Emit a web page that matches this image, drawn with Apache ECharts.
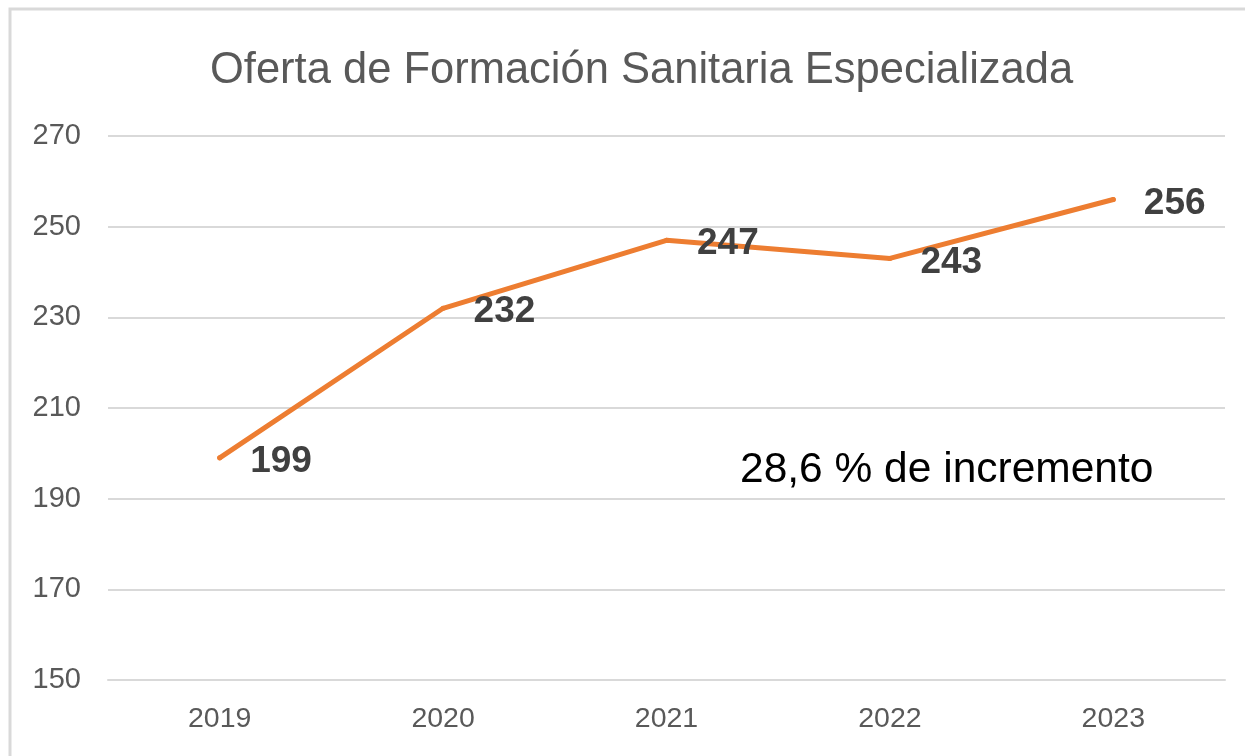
<!DOCTYPE html>
<html>
<head>
<meta charset="utf-8">
<script src="https://cdn.jsdelivr.net/npm/echarts@6/dist/echarts.min.js"></script>
<style>
html,body{margin:0;padding:0;background:#fff;}
#chart{width:1245px;height:756px;}
</style>
</head>
<body>
<div id="chart"></div>
<script>
const categories = ['2019', '2020', '2021', '2022', '2023'];
const values = [199, 232, 247, 243, 256];
const titleText = 'Oferta de Formación Sanitaria Especializada';
const noteText = '28,6 % de incremento';

const chart = echarts.init(document.getElementById('chart'));
chart.setOption({
  animation: false,
  backgroundColor: '#ffffff',
  title: {
    text: titleText,
    left: 205,
    top: 44,
    textStyle: {
      fontFamily: 'Liberation Sans, Arial, sans-serif',
      fontSize: 43.5,
      fontWeight: 'normal',
      color: '#595959'
    }
  },
  grid: { left: 108, right: 20, top: 136, bottom: 76 },
  xAxis: {
    type: 'category',
    data: categories,
    boundaryGap: true,
    axisLine: { show: true, lineStyle: { color: '#d9d9d9', width: 2 } },
    axisTick: { show: false },
    axisLabel: {
      margin: 25,
      fontFamily: 'Liberation Sans, Arial, sans-serif',
      fontSize: 28.5,
      color: '#595959'
    }
  },
  yAxis: {
    type: 'value',
    min: 150,
    max: 270,
    interval: 20,
    axisLine: { show: false },
    axisTick: { show: false },
    splitLine: { lineStyle: { color: '#d9d9d9', width: 2 } },
    axisLabel: {
      margin: 27,
      fontFamily: 'Liberation Sans, Arial, sans-serif',
      fontSize: 29,
      color: '#595959'
    }
  },
  series: [{
    type: 'line',
    data: values,
    symbol: 'circle',
    symbolSize: 5,
    showSymbol: true,
    itemStyle: { color: '#ED7D31' },
    lineStyle: { color: '#ED7D31', width: 5, cap: 'round', join: 'round' },
    label: {
      show: true,
      position: 'right',
      distance: 28,
      offset: [0, 4],
      fontFamily: 'Liberation Sans, Arial, sans-serif',
      fontSize: 37,
      fontWeight: 'bold',
      color: '#404040'
    }
  }],
  graphic: [
    {
      type: 'rect',
      shape: { x: 10, y: 9, width: 1300, height: 800 },
      style: { fill: 'none', stroke: '#d9d9d9', lineWidth: 3 },
      silent: true
    },
    {
      type: 'text',
      left: 740,
      top: 449,
      style: {
        text: noteText,
        fontFamily: 'Liberation Sans, Arial, sans-serif',
        fontSize: 42.5,
        fill: '#000000'
      }
    }
  ]
});
</script>
</body>
</html>
